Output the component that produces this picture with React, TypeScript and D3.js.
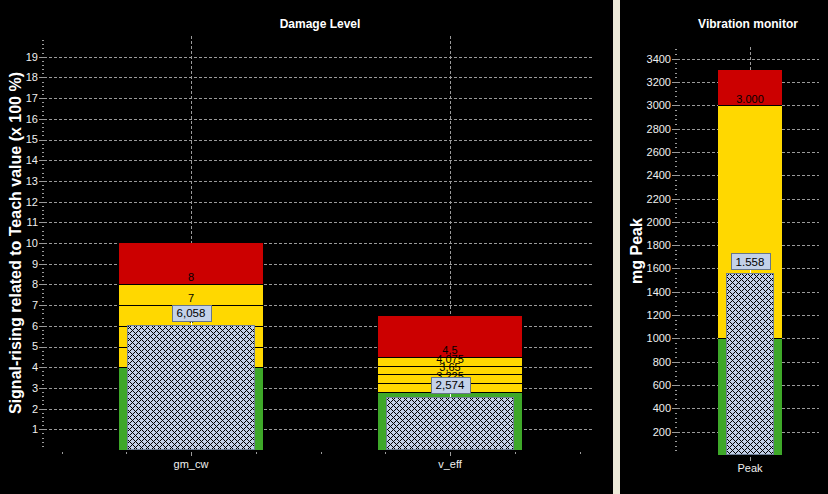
import React from "react";
import * as d3 from "d3";

// ---- Data: Damage Level panel ----
const categories = ["gm_cw", "v_eff"];
const measuredValues = [6.058, 2.574];
const measuredLabels = ["6,058", "2,574"];
const greenTops = [4, 2.8];
const thresholdValues = [
  [5, 6, 7, 8],
  [3.225, 3.65, 4.075, 4.5],
];
const thresholdLabels = [
  ["5", "6", "7", "8"],
  ["3,225", "3,65", "4,075", "4,5"],
];
const redTops = [10, 6.45];
const leftTicks = [1, 2, 3, 4, 5, 6, 7, 8, 9, 10, 11, 12, 13, 14, 15, 16, 17, 18, 19];

// ---- Data: Vibration monitor panel ----
const vibCategories = ["Peak"];
const vibValues = [1558];
const vibLabels = ["1.558"];
const vibGreenTops = [1000];
const vibThresholds = [[3000]];
const vibThresholdLabels = [["3.000"]];
const vibRedTops = [3300];
const rightTicks = [200, 400, 600, 800, 1000, 1200, 1400, 1600, 1800, 2000, 2200, 2400, 2600, 2800, 3000, 3200, 3400];

const FONT = "'Liberation Sans', Arial, sans-serif";
const RED = "#cc0000";
const YELLOW = "#ffd800";
const GREEN = "#3ea829";
const GRID = "#9a9a9a";
const TEXT = "#f0f0f0";

type PanelProps = {
  cats: string[];
  values: number[];
  labels: string[];
  greens: number[];
  thresholds: number[][];
  thLabels: string[][];
  reds: number[];
  ticks: number[];
  minorStep: number;
  yMax: number;
  plotLeft: number;
  plotRight: number;
  plotTop: number;
  plotBottom: number;
  xScale: d3.ScaleLinear<number, number>;
  outerW: number;
  innerW: number;
  minorX: number[];
  title: string;
  titleX: number;
  yTitle: string;
  yTitleX: number;
  labelRight: number;
  catLabelY: number;
  thOffset: number;
};

function Panel(p: PanelProps) {
  const y = d3.scaleLinear().domain([0, p.yMax]).range([p.plotBottom, p.plotTop]);
  const minors = d3.range(p.minorStep, p.yMax, p.minorStep).filter(
    (v) => !p.ticks.some((t) => Math.abs(t - v) < p.minorStep / 10)
  );
  const yMid = (p.plotTop + p.plotBottom) / 2;
  return (
    <g>
      {p.ticks.map((t) => (
        <g key={"t" + t}>
          <line x1={p.plotLeft - 5} x2={p.plotLeft} y1={Math.round(y(t)) + 0.5} y2={Math.round(y(t)) + 0.5} stroke={GRID} />
          <line x1={p.plotLeft} x2={p.plotRight} y1={Math.round(y(t)) + 0.5} y2={Math.round(y(t)) + 0.5} stroke={GRID} strokeDasharray="3,2" />
          <text x={p.labelRight} y={y(t)} dy="0.36em" textAnchor="end" fill={TEXT} fontSize={11} fontFamily={FONT}>
            {t}
          </text>
        </g>
      ))}
      {minors.map((m, i) => (
        <line key={"m" + i} x1={p.plotLeft - 2} x2={p.plotLeft} y1={Math.round(y(m)) + 0.5} y2={Math.round(y(m)) + 0.5} stroke={GRID} />
      ))}
      {p.cats.map((c, i) => (
        <line key={"vg" + c} x1={Math.round(p.xScale(i)) + 0.5} x2={Math.round(p.xScale(i)) + 0.5} y1={p.plotTop} y2={p.plotBottom} stroke={GRID} strokeDasharray="3,2" />
      ))}
      {p.minorX.map((v, i) => (
        <line key={"xm" + i} x1={Math.round(p.xScale(v)) + 0.5} x2={Math.round(p.xScale(v)) + 0.5} y1={p.plotBottom + 2} y2={p.plotBottom + 4} stroke={GRID} />
      ))}
      {p.cats.map((c, i) => (
        <g key={"xc" + c}>
          <line x1={Math.round(p.xScale(i)) + 0.5} x2={Math.round(p.xScale(i)) + 0.5} y1={p.plotBottom + 2} y2={p.plotBottom + 6} stroke={GRID} />
          <text x={p.xScale(i)} y={p.catLabelY} textAnchor="middle" fill={TEXT} fontSize={11} fontFamily={FONT}>
            {c}
          </text>
        </g>
      ))}
      {p.cats.map((c, i) => {
        const cx = p.xScale(i);
        const ox = cx - p.outerW / 2;
        const ix = cx - p.innerW / 2;
        const ths = p.thresholds[i];
        const topTh = ths[ths.length - 1];
        const bw = 39;
        const bh = 16;
        const vy = y(p.values[i]);
        return (
          <g key={"bar" + c}>
            <rect x={ox} y={y(p.reds[i])} width={p.outerW} height={y(topTh) - y(p.reds[i])} fill={RED} />
            <rect x={ox} y={y(topTh)} width={p.outerW} height={y(p.greens[i]) - y(topTh)} fill={YELLOW} />
            <rect x={ox} y={y(p.greens[i])} width={p.outerW} height={y(0) - y(p.greens[i])} fill={GREEN} />
            {[p.greens[i], ...ths].map((t, k) => (
              <line key={"tl" + k} x1={ox} x2={ox + p.outerW} y1={Math.round(y(t)) + 0.5} y2={Math.round(y(t)) + 0.5} stroke="#000" />
            ))}
            {ths.map((t, k) => (
              <text key={"tt" + k} x={cx} y={y(t) - p.thOffset} textAnchor="middle" fill="#000" fontSize={11} fontFamily={FONT}>
                {p.thLabels[i][k]}
              </text>
            ))}
            <rect x={Math.round(ix)} y={Math.round(vy)} width={p.innerW} height={Math.round(y(0)) - Math.round(vy)} fill="url(#hatch)" />
            <rect x={Math.round(ix) + 0.5} y={Math.round(vy) + 0.5} width={p.innerW - 1} height={Math.round(y(0)) - Math.round(vy) - 1} fill="none" stroke="#6f7f95" strokeWidth={1} />
            <line x1={Math.round(cx) + 0.5} x2={Math.round(cx) + 0.5} y1={vy - 4} y2={vy} stroke="#ffffff" />
            <rect x={Math.round(cx - bw / 2) + 0.5} y={Math.round(vy - 4 - bh) + 0.5} width={bw} height={bh} fill="#c3d1e9" stroke="#66768c" />
            <text x={cx} y={vy - 4 - bh / 2} dy="0.36em" textAnchor="middle" fill="#000" fontSize={11.5} fontFamily={FONT}>
              {p.labels[i]}
            </text>
          </g>
        );
      })}
      <text x={p.titleX} y={28} textAnchor="middle" fill="#ffffff" fontSize={12} fontWeight="bold" fontFamily={FONT}>
        {p.title}
      </text>
      <text transform={`translate(${p.yTitleX},${yMid}) rotate(-90)`} textAnchor="middle" fill="#ffffff" fontSize={16} fontWeight="bold" fontFamily={FONT}>
        {p.yTitle}
      </text>
    </g>
  );
}

const hatchPixels = d3.range(6).flatMap((k) => [
  [k, k],
  [(6 - k) % 6, k],
]);

export default function App() {
  const xLeft = d3.scaleLinear().domain([0, 1]).range([191, 450]);
  const xRight = d3.scaleLinear().domain([0, 1]).range([750, 1000]);
  return (
    <svg width={828} height={494} style={{ position: "absolute", left: 0, top: 0, display: "block" }} shapeRendering="crispEdges">
      <defs>
        <pattern id="hatch" width={6} height={6} patternUnits="userSpaceOnUse">
          <rect width={6} height={6} fill="#c3d0e8" />
          {hatchPixels.map(([px, py], i) => (
            <rect key={i} x={px} y={py} width={1} height={1} fill="#000" />
          ))}
        </pattern>
      </defs>
      <rect x={0} y={0} width={828} height={494} fill="#000" />
      <rect x={613} y={0} width={7} height={494} fill="#ece9d8" />
      <Panel
        cats={categories}
        values={measuredValues}
        labels={measuredLabels}
        greens={greenTops}
        thresholds={thresholdValues}
        thLabels={thresholdLabels}
        reds={redTops}
        ticks={leftTicks}
        minorStep={0.2}
        yMax={20}
        plotLeft={44}
        plotRight={593}
        plotTop={36}
        plotBottom={450}
        xScale={xLeft}
        outerW={144}
        innerW={128}
        minorX={[-0.5, -0.25, 0.25, 0.5, 0.75, 1.25, 1.5]}
        title="Damage Level"
        titleX={320}
        yTitle="Signal-rising related to Teach value (x 100 %)"
        yTitleX={21}
        labelRight={38}
        catLabelY={468}
        thOffset={3}
      />
      <Panel
        cats={vibCategories}
        values={vibValues}
        labels={vibLabels}
        greens={vibGreenTops}
        thresholds={vibThresholds}
        thLabels={vibThresholdLabels}
        reds={vibRedTops}
        ticks={rightTicks}
        minorStep={40}
        yMax={3500}
        plotLeft={677}
        plotRight={819}
        plotTop={47}
        plotBottom={455}
        xScale={xRight}
        outerW={64}
        innerW={48}
        minorX={[]}
        title="Vibration monitor"
        titleX={748}
        yTitle="mg Peak"
        yTitleX={642}
        labelRight={671}
        catLabelY={472}
        thOffset={2}
      />
    </svg>
  );
}
